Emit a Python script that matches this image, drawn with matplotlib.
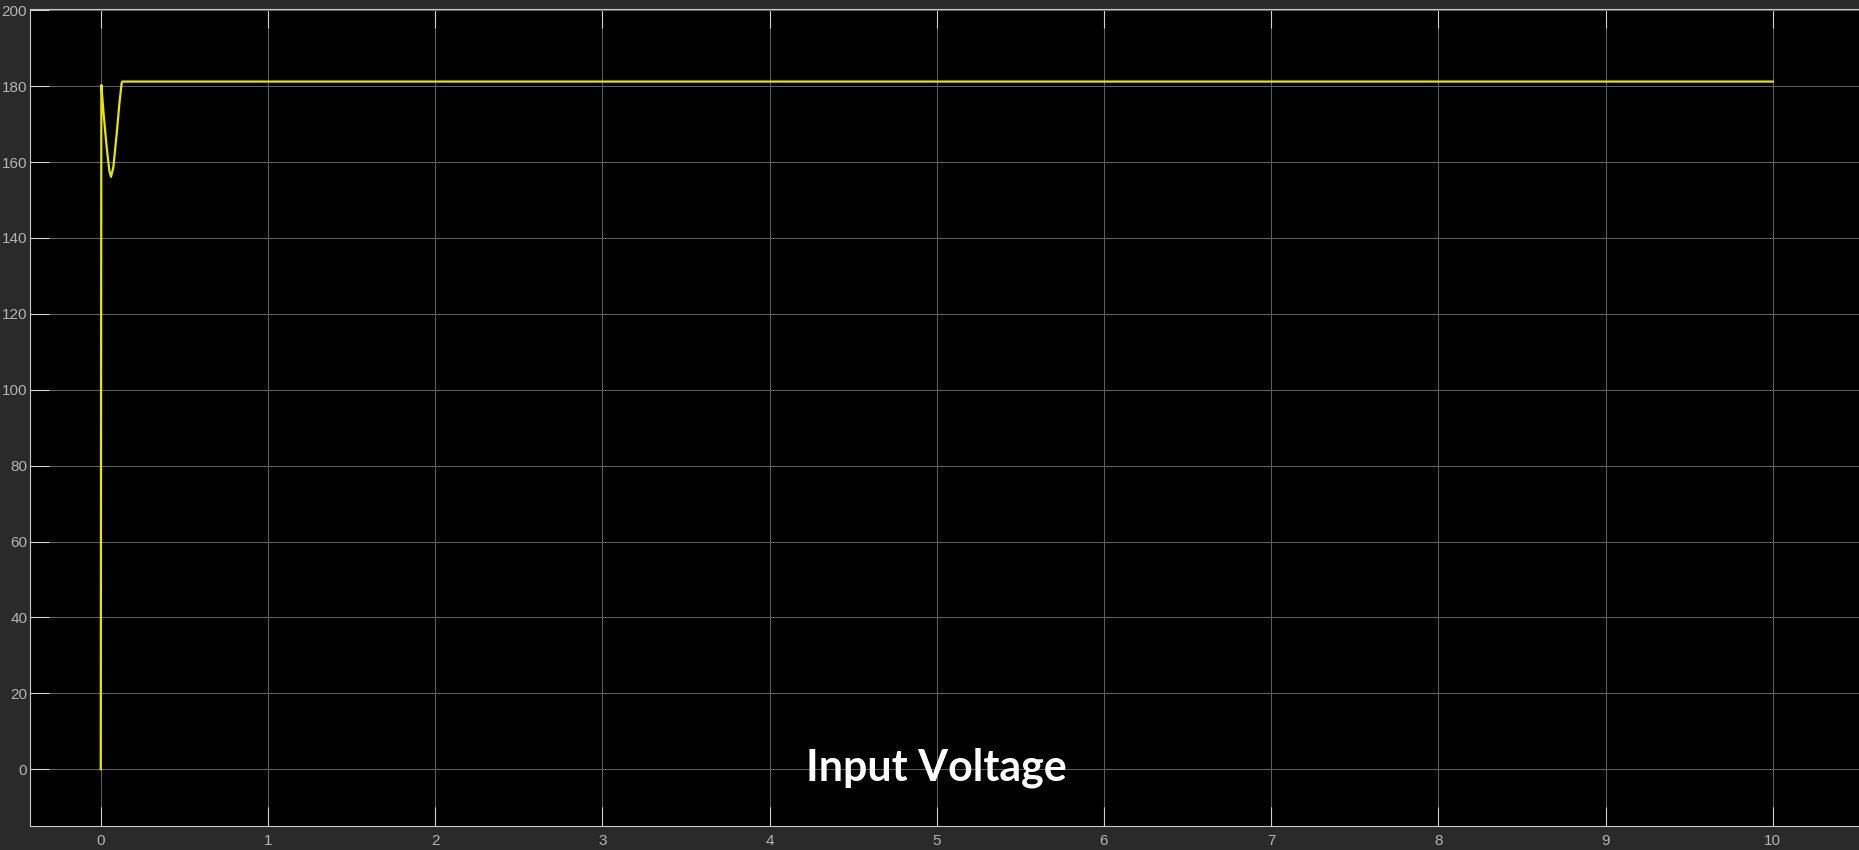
import numpy as np
import matplotlib
matplotlib.use("Agg")
import matplotlib.pyplot as plt

## data
t_vals = [0.0, 0.0, 0.0038, 0.0157, 0.0357, 0.0516, 0.0616, 0.0755, 0.0955, 0.1114, 0.1254, 0.13, 10.0]
v_vals = [0.0, 0.0, 180.3, 173.5, 163.8, 157.7, 156.1, 158.6, 167.4, 175.3, 180.9, 181.2, 181.2]
x_ticks = [0, 1, 2, 3, 4, 5, 6, 7, 8, 9, 10]
y_ticks = [0, 20, 40, 60, 80, 100, 120, 140, 160, 180, 200]
title = "Input Voltage"

bg = "#2a2a2a"
fig = plt.figure(figsize=(18.59, 8.5), dpi=100, facecolor=bg)
ax = fig.add_axes([30/1859, 1-826/850, 1-30/1859, (826-8.7)/850])
ax.set_facecolor("black")

ax.plot(t_vals, v_vals, color="#e6e600", linewidth=1.6, zorder=3)

ax.set_xlim(-0.423, 10.516)
ax.set_ylim(-14.94, 200.4)
ax.set_xticks(x_ticks)
ax.set_yticks(y_ticks)
ax.grid(True, color="#5e5e5e", linewidth=0.75)

for s in ["left", "top", "bottom"]:
    ax.spines[s].set_color("#c8c8c8")
    ax.spines[s].set_linewidth(0.8)
ax.spines["right"].set_visible(False)

ax.tick_params(axis="both", direction="in", length=13.5, width=0.8,
               color="#d0d0d0", labelcolor="#b4b4b4", labelsize=11)
ax.tick_params(axis="x", top=True, pad=6)
ax.tick_params(axis="y", pad=2)
for lab in ax.get_xticklabels() + ax.get_yticklabels():
    lab.set_family("Liberation Sans")

fig.text(936/1859, 1-780/850, title, color="white", fontsize=31,
         fontweight="bold", family="Lato", ha="center", va="baseline")

fig.savefig("out.png", dpi=100, facecolor=bg)
